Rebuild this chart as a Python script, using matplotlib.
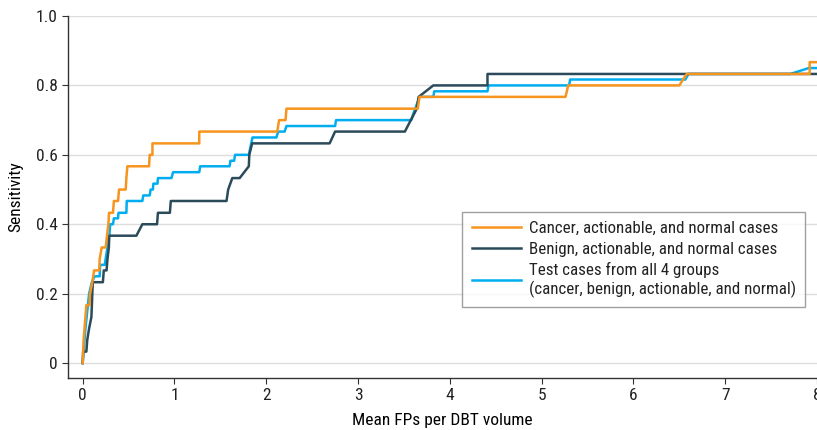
import matplotlib
matplotlib.use('Agg')
import matplotlib.pyplot as plt
from matplotlib import font_manager

# FROC curves
cancer_x = [0.00, 0.01, 0.02, 0.04, 0.075, 0.08, 0.105, 0.124, 0.18, 0.185, 0.207, 0.25, 0.265, 0.28,
            0.287, 0.33, 0.34, 0.385, 0.396, 0.469, 0.476, 0.487, 0.723, 0.73, 0.76, 0.76, 1.27, 1.27,
            2.12, 2.14, 2.21, 2.22, 3.65, 3.67, 5.26, 5.29, 6.50, 6.58, 7.92, 7.92, 8.10]
cancer_y = [0.000, 0.067, 0.100, 0.167, 0.167, 0.200, 0.233, 0.267, 0.267, 0.300, 0.333, 0.333, 0.367,
            0.400, 0.433, 0.433, 0.467, 0.467, 0.500, 0.500, 0.533, 0.567, 0.567, 0.600, 0.600, 0.633,
            0.633, 0.667, 0.667, 0.700, 0.700, 0.733, 0.733, 0.767, 0.767, 0.800, 0.800, 0.833, 0.833,
            0.867, 0.867]

benign_x = [0.00, 0.005, 0.04, 0.05, 0.07, 0.095, 0.105, 0.11, 0.22, 0.23, 0.26, 0.27, 0.285, 0.29,
            0.585, 0.65, 0.81, 0.82, 0.95, 0.96, 1.567, 1.585, 1.63, 1.71, 1.81, 1.815, 1.846, 2.69,
            2.75, 3.51, 3.64, 3.66, 3.82, 4.41, 4.41, 8.10]
benign_y = [0.000, 0.033, 0.033, 0.067, 0.100, 0.133, 0.200, 0.233, 0.233, 0.267, 0.267, 0.300, 0.333,
            0.367, 0.367, 0.400, 0.400, 0.433, 0.433, 0.467, 0.467, 0.500, 0.533, 0.533, 0.567, 0.600,
            0.633, 0.633, 0.667, 0.667, 0.733, 0.767, 0.800, 0.800, 0.833, 0.833]

all_x = [0.00, 0.01, 0.03, 0.05, 0.07, 0.10, 0.13, 0.185, 0.19, 0.24, 0.25, 0.27, 0.28, 0.29, 0.30,
         0.33, 0.34, 0.385, 0.39, 0.476, 0.48, 0.65, 0.66, 0.73, 0.74, 0.765, 0.77, 0.815, 0.82,
         0.967, 0.985, 1.27, 1.28, 1.60, 1.61, 1.65, 1.66, 1.81, 1.85, 2.11, 2.13, 2.20, 2.22, 2.75,
         2.76, 3.58, 3.60, 3.67, 3.82, 3.83, 4.41, 4.42, 5.30, 5.31, 6.565, 6.60, 7.71, 7.91, 8.10]
all_y = [0.000, 0.033, 0.100, 0.150, 0.200, 0.233, 0.250, 0.250, 0.283, 0.283, 0.300, 0.333, 0.367,
         0.367, 0.400, 0.400, 0.417, 0.417, 0.433, 0.433, 0.467, 0.467, 0.483, 0.483, 0.500, 0.500,
         0.517, 0.517, 0.533, 0.533, 0.550, 0.550, 0.567, 0.567, 0.583, 0.583, 0.600, 0.600, 0.650,
         0.650, 0.667, 0.667, 0.683, 0.683, 0.700, 0.700, 0.717, 0.767, 0.767, 0.783, 0.783, 0.800,
         0.800, 0.817, 0.817, 0.833, 0.833, 0.850, 0.850]

labels = ['Cancer, actionable, and normal cases',
          'Benign, actionable, and normal cases',
          'Test cases from all 4 groups\n(cancer, benign, actionable, and normal)']
colors = ['#F7941D', '#2B4B5B', '#00AEEF']

x_ticks = [0, 1, 2, 3, 4, 5, 6, 7, 8]
y_ticks = [0, 0.2, 0.4, 0.6, 0.8, 1.0]
y_tick_labels = ['0', '0.2', '0.4', '0.6', '0.8', '1.0']

# pick a narrow font if one is around
names = {f.name for f in font_manager.fontManager.ttflist}
narrow = [n for n in ['Liberation Sans Narrow', 'Roboto Condensed', 'Open Sans Condensed']
          if n in names]
plt.rcParams['font.family'] = narrow + ['DejaVu Sans']
plt.rcParams['font.stretch'] = 'condensed'
plt.rcParams['text.color'] = '#222222'

fig = plt.figure(figsize=(8.17, 4.30), dpi=100)
ax = fig.add_axes([68 / 817, 52 / 430, 749 / 817, 362 / 430])

l3, = ax.plot(all_x, all_y, color=colors[2], lw=1.8, label=labels[2])
l2, = ax.plot(benign_x, benign_y, color=colors[1], lw=1.8, label=labels[1])
l1, = ax.plot(cancer_x, cancer_y, color=colors[0], lw=1.8, label=labels[0])

ax.set_xlim(-0.16, 8.0)
ax.set_ylim(-0.043, 1.0)
ax.set_xticks(x_ticks)
ax.set_yticks(y_ticks)
ax.set_yticklabels(y_tick_labels)
ax.yaxis.grid(True, color='#dddddd', lw=1)
ax.set_axisbelow(True)

for s in ['top', 'right']:
    ax.spines[s].set_visible(False)
for s in ['left', 'bottom']:
    ax.spines[s].set_color('#333333')
    ax.spines[s].set_linewidth(1)
ax.tick_params(axis='both', direction='out', length=4, width=0.8, color='#333333',
               labelsize=12.5, labelcolor='#222222')

ax.set_xlabel('Mean FPs per DBT volume', fontsize=12.5, labelpad=7)
ax.set_ylabel('Sensitivity', fontsize=12.5, labelpad=9)

leg = ax.legend(handles=[l1, l2, l3], loc='upper right', bbox_to_anchor=(0.984, 0.459),
                borderaxespad=0, fancybox=False, frameon=True, handlelength=2.9,
                handletextpad=0.45, labelspacing=0.32, borderpad=0.55, fontsize=12.2)
leg.get_frame().set_edgecolor('#888888')
leg.get_frame().set_linewidth(1)

fig.savefig('out.png', dpi=100)
